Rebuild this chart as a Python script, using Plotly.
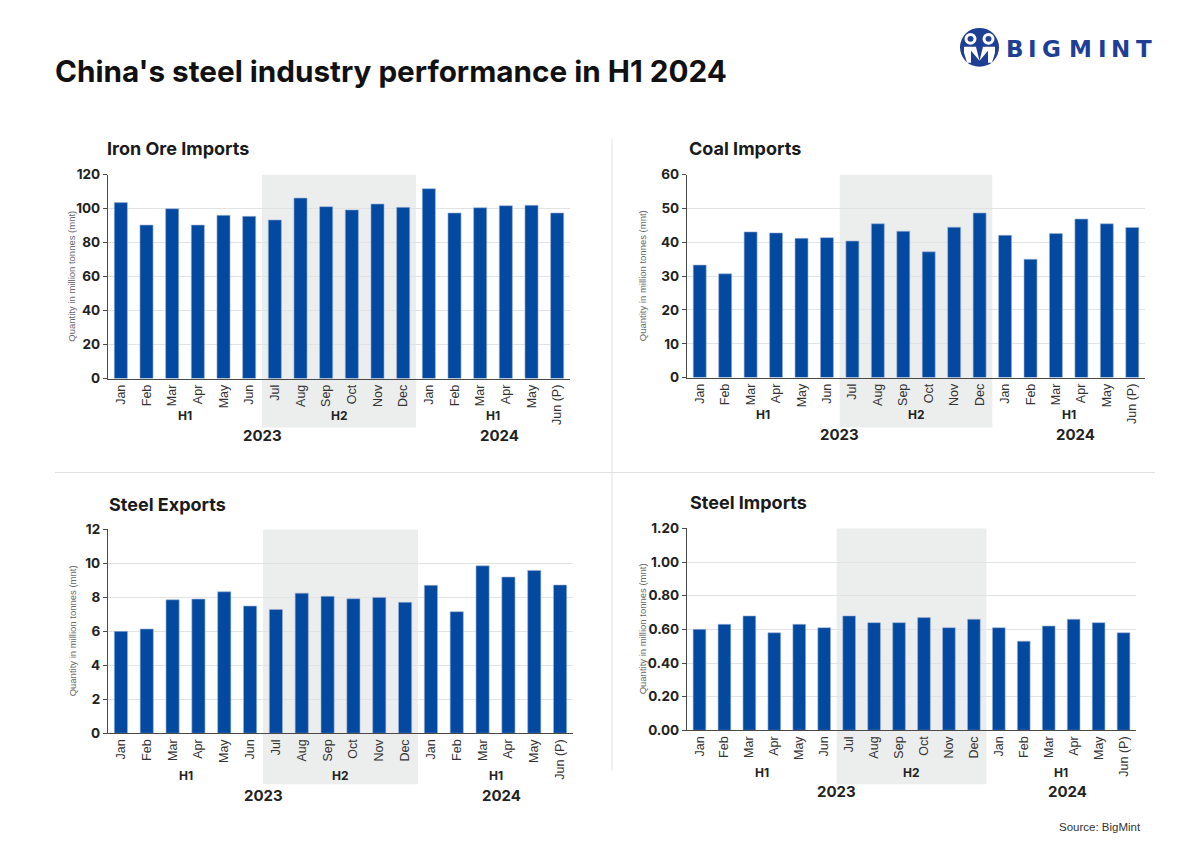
import plotly.graph_objects as go

W, H = 1200, 849

months = ["Jan", "Feb", "Mar", "Apr", "May", "Jun", "Jul", "Aug", "Sep", "Oct", "Nov", "Dec",
          "Jan", "Feb", "Mar", "Apr", "May", "Jun (P)"]
half_labels = ["H1", "H2", "H1"]
year_labels = ["2023", "2024"]

iron_ore = [103.6, 90.4, 100.0, 90.4, 96.1, 95.5, 93.4, 106.3, 101.2, 99.3, 102.8, 100.8,
            111.8, 97.5, 100.6, 101.8, 102.0, 97.5]
coal = [33.3, 30.7, 43.1, 42.8, 41.2, 41.4, 40.4, 45.5, 43.3, 37.2, 44.5, 48.7,
        42.1, 35.0, 42.6, 46.9, 45.5, 44.4]
steel_exports = [6.0, 6.14, 7.86, 7.9, 8.33, 7.49, 7.29, 8.25, 8.06, 7.92, 8.0, 7.71,
                 8.71, 7.16, 9.86, 9.2, 9.59, 8.73]
steel_imports = [0.60, 0.63, 0.68, 0.58, 0.63, 0.61, 0.68, 0.64, 0.64, 0.67, 0.61, 0.66,
                 0.61, 0.53, 0.62, 0.66, 0.64, 0.58]

BAR = "#0449a0"
SHADE = "#eceded"
GRID = "#e3e3e3"
AXIS = "#4a4a4a"
TXT = "#222222"

panels = [
    dict(title="Iron Ore Imports", data=iron_ore, x0=108, x1=570, ytop=174, ybot=378,
         shade_bot=427, ymax=120, dtick=20, fmt=",d", title_y=148, title_x=105, yt_x=72,
         h_y=415, yr_y=435),
    dict(title="Coal Imports", data=coal, x0=687, x1=1145, ytop=174, ybot=377,
         shade_bot=427, ymax=60, dtick=10, fmt=",d", title_y=148, title_x=687, yt_x=642,
         h_y=414, yr_y=434),
    dict(title="Steel Exports", data=steel_exports, x0=108, x1=573, ytop=529, ybot=733,
         shade_bot=784, ymax=12, dtick=2, fmt=",d", title_y=504, title_x=107, yt_x=72,
         h_y=775, yr_y=795),
    dict(title="Steel Imports", data=steel_imports, x0=687, x1=1136, ytop=528, ybot=730,
         shade_bot=784, ymax=1.2, dtick=0.2, fmt=".2f", title_y=502, title_x=688, yt_x=642,
         h_y=772, yr_y=791),
]

fig = go.Figure()
layout = dict(
    width=W, height=H,
    margin=dict(l=0, r=0, t=0, b=0),
    paper_bgcolor="white", plot_bgcolor="rgba(0,0,0,0)",
    showlegend=False, bargap=0.49,
    font=dict(family="Inter, Roboto, sans-serif", color=TXT),
)
annotations = []
shapes = []

# the captured page comes out slightly compressed vertically; compensate
YS, YO = 0.982, 7.1


def px(x):
    return x / W


def py(y):
    return 1 - ((y - YO) / YS) / H


for i, p in enumerate(panels, start=1):
    xa = "x" if i == 1 else f"x{i}"
    ya = "y" if i == 1 else f"y{i}"
    xkey = "xaxis" if i == 1 else f"xaxis{i}"
    ykey = "yaxis" if i == 1 else f"yaxis{i}"
    idx = list(range(len(months)))
    fig.add_trace(go.Bar(x=idx, y=p["data"], xaxis=xa, yaxis=ya,
                         marker=dict(color=BAR, line=dict(color="#9fb6d8", width=0.6)),
                         hoverinfo="y"))
    layout[xkey] = dict(
        domain=[px(p["x0"]), px(p["x1"])], anchor=ya,
        range=[-0.5, len(months) - 0.5], tickmode="array", tickvals=idx, ticktext=months,
        tickangle=-90, tickfont=dict(family="Liberation Sans, Arial, sans-serif", size=12.5, color="#333333"),
        showline=True, linecolor=AXIS, linewidth=1.2, showgrid=False, zeroline=False,
        ticks="", fixedrange=True,
    )
    layout[ykey] = dict(
        domain=[py(p["ybot"]), py(p["ytop"])], anchor=xa,
        range=[0, p["ymax"]], dtick=p["dtick"], tick0=0, tickformat=p["fmt"],
        tickfont=dict(family="Inter, sans-serif", size=13.5, color=TXT, weight=700),
        showline=True, linecolor=AXIS, linewidth=1.2, showgrid=True, gridcolor=GRID,
        gridwidth=1, zeroline=False, ticks="outside", ticklen=4, tickcolor=AXIS,
        fixedrange=True,
    )
    shapes.append(dict(type="rect", xref=xa, yref="paper", x0=5.5, x1=11.5,
                       y0=py(p["shade_bot"]), y1=py(p["ytop"]), fillcolor=SHADE,
                       line=dict(width=0), layer="below"))
    annotations.append(dict(text=f"<b>{p['title']}</b>", xref="paper", yref="paper",
                            x=px(p["title_x"]), y=py(p["title_y"]), xanchor="left", yanchor="middle",
                            showarrow=False, font=dict(family="Inter, sans-serif", size=18, color="#1a1a1a")))
    annotations.append(dict(text="Quantity in million tonnes (mnt)", xref="paper", yref="paper",
                            x=px(p["yt_x"]), y=py((p["ytop"] + p["ybot"]) / 2), textangle=-90,
                            xanchor="center", yanchor="middle", showarrow=False,
                            font=dict(family="Liberation Sans, Arial, sans-serif", size=9.5, color="#666666")))
    for lab, xc in zip(half_labels, [2.5, 8.5, 14.5]):
        annotations.append(dict(text=f"<b>{lab}</b>", xref=xa, yref="paper", x=xc, y=py(p["h_y"]),
                                xanchor="center", yanchor="middle", showarrow=False,
                                font=dict(family="Inter, sans-serif", size=12, color=TXT)))
    for lab, xc in zip(year_labels, [5.5, 14.75]):
        annotations.append(dict(text=f"<b>{lab}</b>", xref=xa, yref="paper", x=xc, y=py(p["yr_y"]),
                                xanchor="center", yanchor="middle", showarrow=False,
                                font=dict(family="Inter, sans-serif", size=15, color=TXT)))

shapes.append(dict(type="line", xref="paper", yref="paper", x0=px(612), x1=px(612),
                   y0=py(138), y1=py(770), line=dict(color="#e2e2e2", width=1)))
shapes.append(dict(type="line", xref="paper", yref="paper", x0=px(55), x1=px(1155),
                   y0=py(472), y1=py(472), line=dict(color="#e2e2e2", width=1)))

annotations.append(dict(text="<b>China's steel industry performance in H1 2024</b>", xref="paper", yref="paper",
                        x=px(53), y=py(70), xanchor="left", yanchor="middle", showarrow=False,
                        font=dict(family="Inter, sans-serif", size=29.7, color="#111111")))
annotations.append(dict(text="Source: BigMint", xref="paper", yref="paper",
                        x=px(1143), y=py(827), xanchor="right", yanchor="middle", showarrow=False,
                        font=dict(family="Liberation Sans, Arial, sans-serif", size=11.5, color="#333333")))

# logo icon
LOGO = "#1f3f95"


def pt(x, y):
    return f"{px(x)} {py(y)}"


shapes.append(dict(type="circle", xref="paper", yref="paper", x0=px(960), x1=px(999),
                   y0=py(66), y1=py(27), fillcolor=LOGO, line=dict(width=0)))
for cx in (970.5, 988.5):
    shapes.append(dict(type="circle", xref="paper", yref="paper", x0=px(cx - 6), x1=px(cx + 6),
                       y0=py(44), y1=py(32), fillcolor="white", line=dict(width=0)))
    shapes.append(dict(type="circle", xref="paper", yref="paper", x0=px(cx - 3), x1=px(cx + 3),
                       y0=py(41), y1=py(35), fillcolor=LOGO, line=dict(width=0)))
shapes.append(dict(type="path", xref="paper", yref="paper",
                   path=f"M {pt(964, 46)} L {pt(976, 46)} L {pt(979.5, 60)} L {pt(971, 50)} "
                        f"L {pt(971, 62)} L {pt(967, 62)} L {pt(964, 52)} Z",
                   fillcolor="white", line=dict(width=0)))
shapes.append(dict(type="path", xref="paper", yref="paper",
                   path=f"M {pt(983, 46)} L {pt(995, 46)} L {pt(995, 52)} L {pt(992, 62)} "
                        f"L {pt(988, 62)} L {pt(988, 50)} L {pt(979.5, 60)} Z",
                   fillcolor="white", line=dict(width=0)))

logo_letters = ["B", "I", "G", "M", "I", "N", "T"]
logo_x = [1014.5, 1032.5, 1051.5, 1080.7, 1102, 1120, 1144]
for ch, lx in zip(logo_letters, logo_x):
    annotations.append(dict(text=f"<b>{ch}</b>", xref="paper", yref="paper",
                            x=px(lx), y=py(48), xanchor="center", yanchor="middle", showarrow=False,
                            font=dict(family="DejaVu Sans, sans-serif", size=23, color=LOGO)))

layout["annotations"] = annotations
layout["shapes"] = shapes
fig.update_layout(**layout)
fig.write_html(
    "out.html",
    config={"displayModeBar": False},
    post_script=("document.documentElement.style.margin='0';document.documentElement.style.padding='0';"
                 "document.documentElement.style.overflow='hidden';"
                 "document.body.style.margin='0';document.body.style.padding='0';"
                 "document.body.style.overflow='hidden';"),
)
